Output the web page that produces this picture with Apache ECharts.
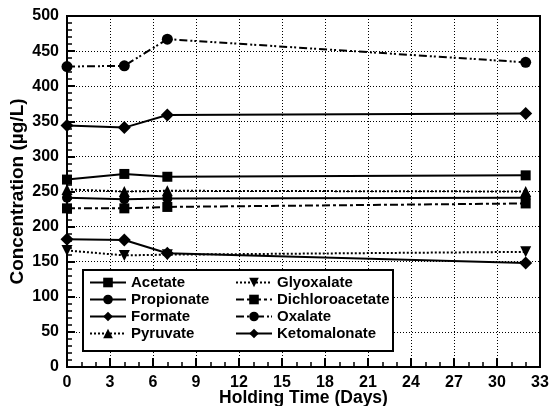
<!DOCTYPE html>
<html><head><meta charset="utf-8">
<script src="https://cdn.jsdelivr.net/npm/echarts@6/dist/echarts.min.js"></script>
<style>html,body{margin:0;padding:0;background:#fff}#c{width:551px;height:406px}</style>
</head><body><div id="c"></div>
<script>
const days = [0, 4, 7, 32];
const acetate = [267, 275, 271, 273];
const propionate = [241, 239, 240, 241];
const formate = [182, 181, 162, 148];
const pyruvate = [253, 250, 251, 250];
const glyoxalate = [166, 159, 160, 164];
const dichloroacetate = [226, 226, 228, 233];
const oxalate = [428, 429, 467, 434];
const ketomalonate = [344, 341, 359, 361];
const xTicks = [0,3,6,9,12,15,18,21,24,27,30,33];
const yTicks = [0,50,100,150,200,250,300,350,400,450,500];

const FONT = 'Liberation Sans, Arial, Helvetica, sans-serif';
const downTri = 'path://M0,0 L10,0 L5,10 Z';
function mk(name, vals, symbol, dash, size) {
  return {
    name: name, type: 'line',
    data: days.map((d, i) => [d, vals[i]]),
    symbol: symbol, symbolSize: size || 10,
    itemStyle: { color: '#000' },
    lineStyle: { color: '#000', width: 2, type: dash },
    emphasis: { disabled: true },
    animation: false
  };
}
const series = [
  mk('Acetate', acetate, 'rect', 'solid', 10),
  mk('Propionate', propionate, 'circle', 'solid', 10),
  mk('Formate', formate, 'diamond', 'solid', 13),
  mk('Pyruvate', pyruvate, 'triangle', [2, 2], 11),
  mk('Glyoxalate', glyoxalate, downTri, [2, 2], 11),
  mk('Dichloroacetate', dichloroacetate, 'rect', [8, 3, 3, 3], 10),
  mk('Oxalate', oxalate, 'circle', [8, 3, 2, 2, 2, 3], 11),
  mk('Ketomalonate', ketomalonate, 'diamond', 'solid', 13)
];
const legendCommon = {
  orient: 'vertical', itemWidth: 36, itemHeight: 12, itemGap: 2, padding: 0, z: 100,
  textStyle: { fontFamily: FONT, fontWeight: 'bold', fontSize: 15, color: '#000' },
  selectedMode: false
};
const chart = echarts.init(document.getElementById('c'), null, { renderer: 'canvas' });
chart.setOption({
  backgroundColor: '#fff',
  animation: false,
  grid: { left: 67, right: 11, top: 16, bottom: 39, show: true, borderColor: '#000', borderWidth: 2,
          containLabel: false, outerBoundsMode: 'none' },
  legend: [
    Object.assign({ left: 89, top: 275, data: ['Acetate', 'Propionate', 'Formate', 'Pyruvate'] }, legendCommon),
    Object.assign({ left: 235, top: 275, data: ['Glyoxalate', 'Dichloroacetate', 'Oxalate', 'Ketomalonate'] }, legendCommon)
  ],
  graphic: [{
    type: 'rect', shape: { x: 83, y: 270, width: 310, height: 81 },
    style: { fill: '#fff', stroke: '#000', lineWidth: 2 }, z: 10
  }],
  xAxis: {
    type: 'value', min: xTicks[0], max: xTicks[xTicks.length - 1], interval: 3,
    name: 'Holding Time (Days)', nameLocation: 'middle', nameGap: 22, nameMoveOverlap: false,
    nameTextStyle: { fontFamily: FONT, fontWeight: 'bold', fontSize: 17.5, color: '#000' },
    axisLine: { lineStyle: { color: '#000', width: 2 } },
    axisTick: { inside: true, length: 9, lineStyle: { color: '#000', width: 2 } },
    minorTick: { show: true, splitNumber: 3, length: 5, lineStyle: { color: '#000', width: 1.5 } },
    axisLabel: { fontFamily: FONT, fontWeight: 'bold', fontSize: 16, color: '#000', margin: 8 },
    splitLine: { show: true, lineStyle: { color: '#000', width: 1, type: [1, 2] } }
  },
  yAxis: {
    type: 'value', min: yTicks[0], max: yTicks[yTicks.length - 1], interval: 50,
    name: 'Concentration (µg/L)', nameLocation: 'middle', nameGap: 40, nameMoveOverlap: false,
    nameTextStyle: { fontFamily: FONT, fontWeight: 'bold', fontSize: 19, color: '#000' },
    axisLine: { lineStyle: { color: '#000', width: 2 } },
    axisTick: { inside: true, length: 8, lineStyle: { color: '#000', width: 2 } },
    minorTick: { show: true, splitNumber: 5, length: 5, lineStyle: { color: '#000', width: 1.5 } },
    axisLabel: { fontFamily: FONT, fontWeight: 'bold', fontSize: 16, color: '#000', margin: 8 },
    splitLine: { show: true, lineStyle: { color: '#000', width: 1, type: [1, 2] } }
  },
  series: series
});
</script></body></html>
